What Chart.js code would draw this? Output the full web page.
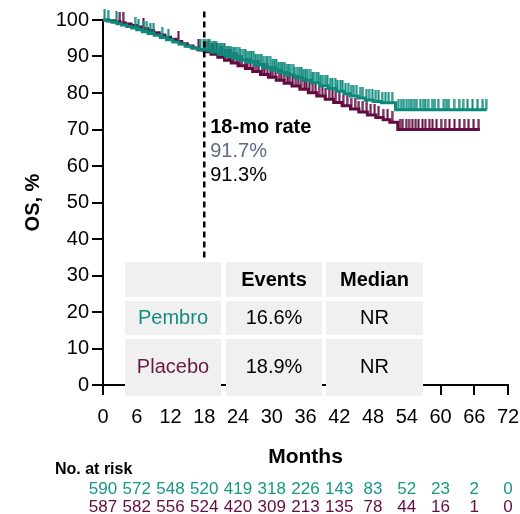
<!DOCTYPE html>
<html>
<head>
<meta charset="utf-8">
<script src="https://cdn.jsdelivr.net/npm/chart.js@4"></script>
<style>
  body { margin: 0; background: #fff; }
  #wrap { width: 520px; height: 514px; }
</style>
</head>
<body>
<div id="wrap"><canvas id="myChart" width="520" height="514"></canvas></div>
<script>
const FONT = "'Liberation Sans Narrow', 'Arial Narrow', 'Liberation Sans', Arial, sans-serif";
const TEAL = '#0b8a7c';
const MAROON = '#640c40';

// KM steps (months, OS %)
const pembroTime = [0, 0.8, 1.6, 2.5, 3.3, 4.2, 5.1, 6.0, 7.0, 8.0, 9.1, 10.2, 11.3, 12.4, 13.5, 14.6, 15.7, 16.8, 18.0, 19.2, 20.5, 21.8, 23.0, 24.3, 25.6, 27.0, 28.4, 29.8, 31.2, 32.6, 34.0, 35.5, 37.0, 38.5, 40.0, 41.4, 42.8, 44.0, 45.3, 46.6, 48.0, 49.5, 52.0, 68.2];
const pembroSurv = [100, 99.7, 99.4, 99.0, 98.6, 98.2, 97.8, 97.3, 96.8, 96.3, 95.8, 95.2, 94.6, 94.0, 93.4, 92.8, 92.3, 91.9, 91.7, 91.2, 90.6, 90.0, 89.5, 89.0, 88.4, 87.7, 87.0, 86.3, 85.6, 84.9, 84.2, 83.5, 82.8, 82.0, 81.2, 80.5, 79.8, 79.2, 78.6, 78.1, 77.7, 77.3, 75.4, 75.4];
const placeboTime = [0, 1.0, 2.0, 3.0, 4.0, 5.0, 6.0, 7.0, 8.0, 9.0, 10.0, 11.0, 12.0, 13.0, 14.0, 15.0, 16.0, 17.0, 18.0, 19.2, 20.4, 21.6, 22.8, 24.0, 25.3, 26.6, 28.0, 29.4, 30.8, 32.2, 33.6, 35.0, 36.5, 38.0, 39.5, 41.0, 42.5, 44.0, 45.5, 47.0, 48.5, 49.8, 51.0, 52.4, 67.0];
const placeboSurv = [100, 99.8, 99.5, 99.2, 98.9, 98.5, 98.1, 97.6, 97.1, 96.5, 95.9, 95.3, 94.7, 94.1, 93.5, 92.9, 92.3, 91.8, 91.3, 90.6, 89.8, 89.0, 88.2, 87.5, 86.7, 85.9, 85.1, 84.3, 83.5, 82.7, 81.9, 81.0, 80.1, 79.2, 78.3, 77.4, 76.5, 75.6, 74.8, 74.0, 73.3, 72.7, 72.0, 70.0, 70.0];

// censored times (months)
const pembroCensor = [0.3, 0.9, 2.4, 5.7, 6.3, 7.2, 7.8, 8.4, 9.0, 10.5, 11.6, 17.3, 17.9, 18.3, 18.7, 19.0, 19.4, 19.8, 20.1, 20.5, 20.9, 21.2, 21.6, 22.0, 22.3, 22.7, 23.1, 23.4, 23.8, 24.2, 24.5, 24.9, 25.3, 25.6, 26.0, 26.4, 26.8, 27.1, 27.5, 27.9, 28.2, 28.6, 29.0, 29.3, 29.7, 30.1, 30.5, 30.8, 31.2, 31.6, 31.9, 32.3, 32.7, 33.0, 33.4, 33.8, 34.1, 34.5, 34.9, 35.3, 35.6, 36.0, 36.4, 36.8, 37.2, 37.5, 37.9, 38.3, 38.7, 39.1, 39.5, 39.9, 40.4, 40.8, 41.3, 41.7, 42.2, 42.6, 43.1, 43.6, 44.1, 44.6, 45.1, 45.7, 46.2, 46.8, 47.3, 47.9, 48.5, 49.0, 49.6, 50.2, 50.8, 51.4, 52.5, 53.0, 53.5, 54.0, 54.4, 54.9, 55.3, 55.8, 56.4, 56.9, 57.3, 57.8, 58.5, 59.0, 59.6, 60.6, 61.0, 61.5, 62.4, 63.3, 64.0, 64.8, 65.7, 66.6, 67.5, 68.1];
const placeboCensor = [3.0, 3.6, 7.2, 13.4, 17.0, 18.2, 18.7, 19.3, 19.7, 20.2, 20.8, 21.2, 21.7, 22.3, 22.7, 23.2, 23.8, 24.2, 24.7, 25.3, 25.7, 26.2, 26.8, 27.2, 27.7, 28.3, 28.7, 29.2, 29.8, 30.2, 30.7, 31.3, 31.7, 32.2, 32.8, 33.2, 33.7, 34.3, 34.7, 35.2, 35.8, 36.2, 36.7, 37.3, 37.8, 38.4, 39.0, 39.6, 40.2, 40.8, 41.4, 42.0, 42.7, 43.4, 44.1, 44.8, 45.5, 46.2, 46.9, 47.6, 48.3, 49.0, 49.8, 50.6, 51.4, 52.8, 53.3, 53.9, 54.4, 55.0, 55.6, 56.1, 56.8, 57.3, 58.0, 58.6, 59.3, 60.1, 60.8, 61.6, 62.5, 63.4, 64.2, 65.0, 65.9, 66.8];

// number at risk
const riskMonths = [0, 6, 12, 18, 24, 30, 36, 42, 48, 54, 60, 66, 72];
const pembroRisk = [590, 572, 548, 520, 419, 318, 226, 143, 83, 52, 23, 2, 0];
const placeboRisk = [587, 582, 556, 524, 420, 309, 213, 135, 78, 44, 16, 1, 0];

// summary table
const tableHead = ['', 'Events', 'Median'];
const tableRows = [['Pembro', '16.6%', 'NR'], ['Placebo', '18.9%', 'NR']];
const rate18 = ['91.7%', '91.3%'];

const toPoints = (t, s) => t.map((v, i) => ({ x: v, y: s[i] }));
const survAt = (t, s, v) => {
  let out = s[0];
  for (let i = 0; i < t.length; i++) if (t[i] <= v) out = s[i];
  return out;
};
const censorPoints = (c, t, s) => c.map(v => ({ x: v, y: survAt(t, s, v) }));

// upward tick used as censor marker
const tickMark = (color) => {
  const c = document.createElement('canvas');
  c.width = 3; c.height = 22;
  const g = c.getContext('2d');
  g.fillStyle = color;
  g.fillRect(0.5, 0, 2, 11);
  return c;
};

const overlay = {
  id: 'overlay',
  afterDraw(chart) {
    const { ctx, scales: { x } } = chart;
    ctx.save();
    ctx.textBaseline = 'middle';

    // 18-month rate text
    const ax = x.getPixelForValue(18) + 6;
    ctx.textAlign = 'left';
    ctx.font = 'bold 20px ' + FONT;
    ctx.fillStyle = '#000';
    ctx.fillText('18-mo rate', ax, 127);
    ctx.font = '20px ' + FONT;
    ctx.fillStyle = '#5c6b88';
    ctx.fillText(rate18[0], ax, 151);
    ctx.fillStyle = '#000';
    ctx.fillText(rate18[1], ax, 175);

    // table
    const cols = [[125, 96], [226, 96], [326, 97]];
    const rows = [[262, 35], [301, 34], [339, 57]];
    ctx.fillStyle = '#f0f0f0';
    rows.forEach(r => cols.forEach(c => ctx.fillRect(c[0], r[0], c[1], r[1])));
    ctx.textAlign = 'center';
    ctx.font = 'bold 20px ' + FONT;
    ctx.fillStyle = '#000';
    tableHead.forEach((h, i) => { if (h) ctx.fillText(h, cols[i][0] + cols[i][1] / 2, 280); });
    const rowY = [318, 367];
    const rowCol = ['#138c7e', '#6a1a44'];
    ctx.font = '20px ' + FONT;
    tableRows.forEach((r, j) => {
      r.forEach((v, i) => {
        ctx.fillStyle = i === 0 ? rowCol[j] : '#000';
        ctx.fillText(v, cols[i][0] + cols[i][1] / 2, rowY[j]);
      });
    });

    // number at risk
    ctx.textAlign = 'left';
    ctx.font = 'bold 16px ' + FONT;
    ctx.fillStyle = '#000';
    ctx.fillText('No. at risk', 55, 470);
    ctx.textAlign = 'center';
    ctx.font = '17px ' + FONT;
    riskMonths.forEach((m, i) => {
      const px = x.getPixelForValue(m);
      ctx.fillStyle = '#15978a';
      ctx.fillText(pembroRisk[i], px, 489);
      ctx.fillStyle = MAROON;
      ctx.fillText(placeboRisk[i], px, 507);
    });
    ctx.restore();
  }
};

const ctx = document.getElementById('myChart').getContext('2d');
const myChart = new Chart(ctx, {
  type: 'scatter',
  data: {
    datasets: [
      {
        label: '18 mo',
        data: [{ x: 18, y: 102.3 }, { x: 18, y: 34.8 }],
        showLine: true,
        borderColor: '#000',
        borderWidth: 2.5,
        borderDash: [6, 4],
        pointRadius: 0,
        clip: false,
        order: 0,
      },
      {
        label: 'Pembro censored',
        data: censorPoints(pembroCensor, pembroTime, pembroSurv),
        pointStyle: tickMark(TEAL),
        pointRadius: 11,
        clip: false,
        order: 1,
      },
      {
        label: 'Pembro',
        data: toPoints(pembroTime, pembroSurv),
        showLine: true,
        stepped: true,
        borderColor: TEAL,
        borderWidth: 3,
        pointRadius: 0,
        clip: false,
        order: 2,
      },
      {
        label: 'Placebo censored',
        data: censorPoints(placeboCensor, placeboTime, placeboSurv),
        pointStyle: tickMark(MAROON),
        pointRadius: 11,
        clip: false,
        order: 3,
      },
      {
        label: 'Placebo',
        data: toPoints(placeboTime, placeboSurv),
        showLine: true,
        stepped: true,
        borderColor: MAROON,
        borderWidth: 3,
        pointRadius: 0,
        clip: false,
        order: 4,
      },
    ],
  },
  options: {
    responsive: false,
    animation: false,
    events: [],
    layout: { padding: { left: 0, top: 20, right: 2, bottom: 0 } },
    plugins: { legend: { display: false }, tooltip: { enabled: false } },
    scales: {
      x: {
        type: 'linear',
        min: 0,
        max: 72,
        afterFit: (s) => { s.height = 129; s.paddingRight = 11; },
        ticks: { stepSize: 6, color: '#000', font: { family: FONT, size: 20 }, padding: 10, maxRotation: 0 },
        grid: { drawOnChartArea: false, tickLength: 10, color: '#000', lineWidth: 2 },
        border: { color: '#000', width: 2 },
        title: { display: true, text: 'Months', color: '#000', font: { family: FONT, size: 21, weight: 'bold' }, padding: { top: 0, bottom: 44 } },
      },
      y: {
        min: 0,
        max: 100,
        afterFit: (s) => { s.width = 103; },
        ticks: { stepSize: 10, color: '#000', font: { family: FONT, size: 20 }, padding: 3 },
        grid: { drawOnChartArea: false, tickLength: 11, color: '#000', lineWidth: 2 },
        border: { color: '#000', width: 2 },
        title: { display: true, text: 'OS, %', color: '#000', font: { family: FONT, size: 20, weight: 'bold' }, padding: { top: 21, bottom: 0 } },
      },
    },
  },
  plugins: [overlay],
});
</script>
</body>
</html>
